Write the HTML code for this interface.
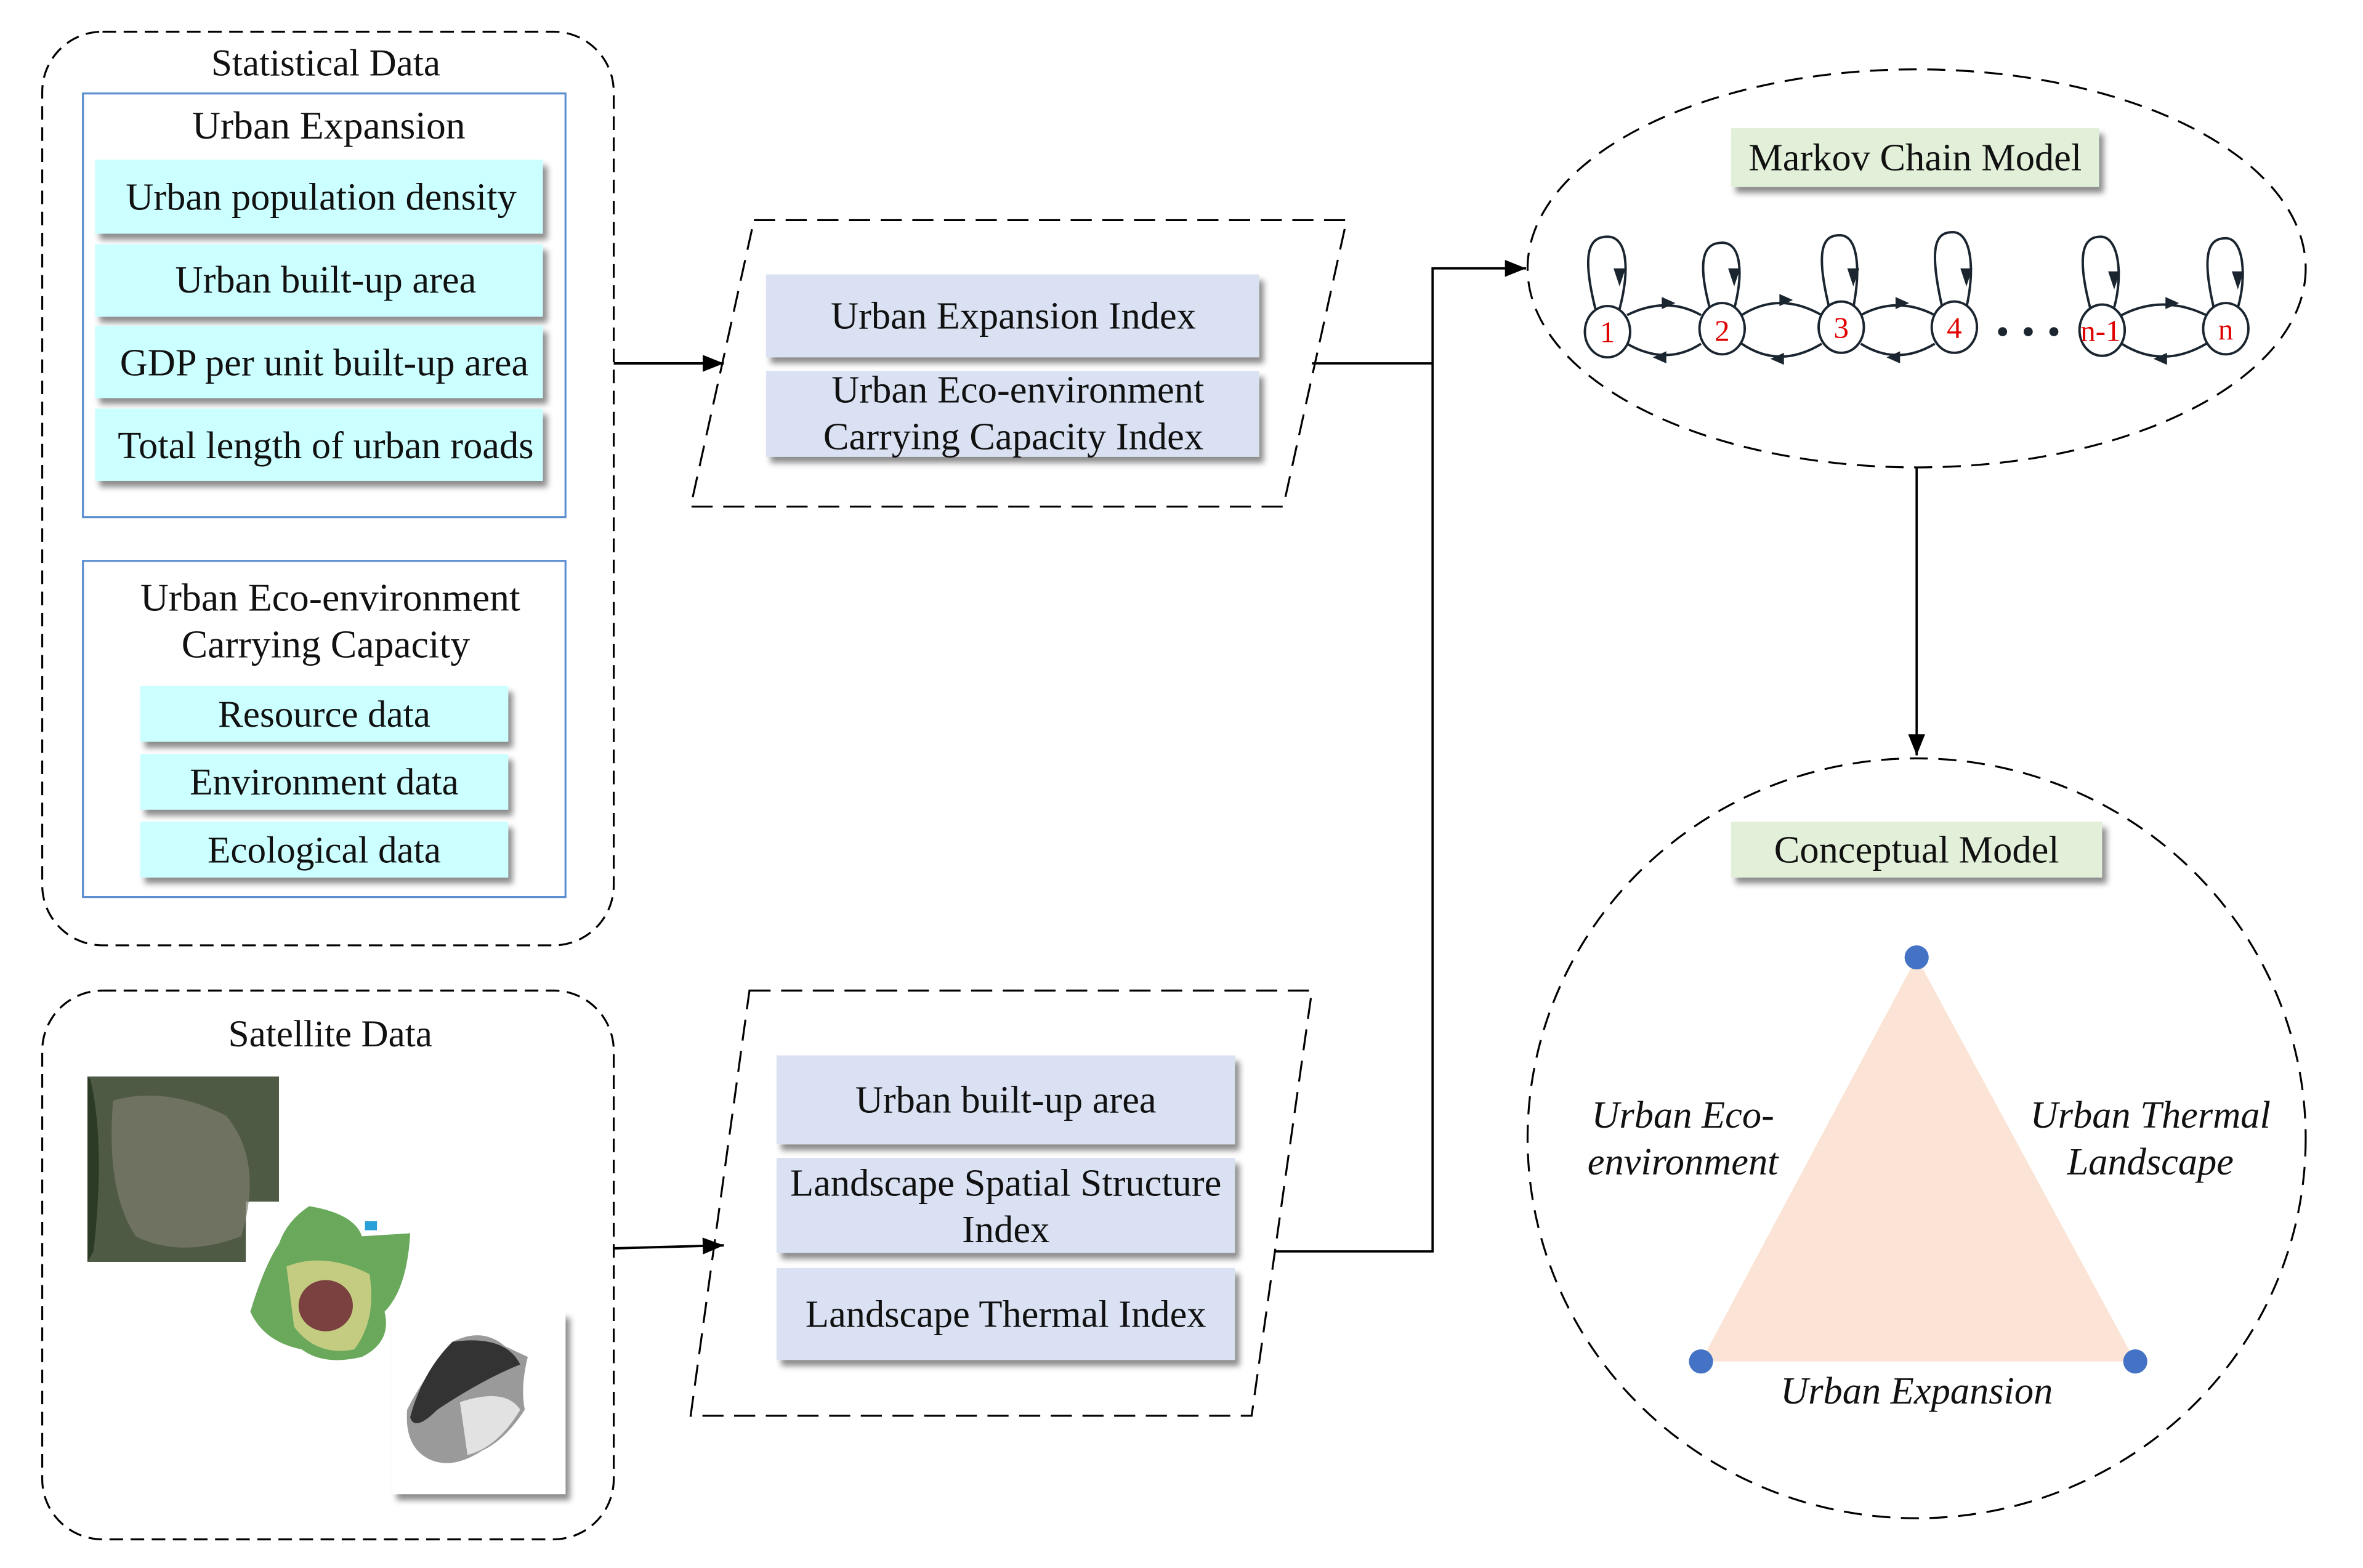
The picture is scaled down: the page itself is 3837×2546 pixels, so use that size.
<!DOCTYPE html>
<html><head><meta charset="utf-8"><style>
html,body{margin:0;padding:0;background:#fff;}
svg{display:block;}
text{font-family:"Liberation Serif",serif;fill:#111;}
</style></head><body>
<svg width="3837" height="2546" viewBox="0 0 1567 1040" preserveAspectRatio="none" xmlns="http://www.w3.org/2000/svg">
<defs>
<filter id="sh" x="-10%" y="-20%" width="130%" height="160%"><feDropShadow dx="3" dy="4" stdDeviation="2" flood-color="#000" flood-opacity="0.45"/></filter>
<marker id="ar2" viewBox="0 0 10 10" refX="10" refY="5" markerWidth="22" markerHeight="14" orient="auto" markerUnits="userSpaceOnUse"><path d="M0,1 L10,5 L0,9z" fill="#000"/></marker>
</defs>
<rect width="1567" height="1040" fill="#fff"/>

<!-- Statistical data -->
<rect x="28" y="21" width="379" height="606" rx="40" fill="none" stroke="#000" stroke-width="1.3" stroke-dasharray="9,5"/>
<text x="216" y="50" font-size="25" text-anchor="middle">Statistical Data</text>
<rect x="55" y="62" width="320" height="281" fill="none" stroke="#5b8fd0" stroke-width="1.3"/>
<text x="218" y="92" font-size="26" text-anchor="middle">Urban Expansion</text>
<g filter="url(#sh)" fill="#ccffff">
<rect x="63" y="106" width="297" height="49"/>
<rect x="63" y="162" width="297" height="48"/>
<rect x="63" y="216" width="297" height="48"/>
<rect x="63" y="271" width="297" height="48"/>
</g>
<g font-size="25.5" text-anchor="middle">
<text x="213" y="139">Urban population density</text>
<text x="216" y="194">Urban built-up area</text>
<text x="215" y="249">GDP per unit built-up area</text>
<text x="216" y="304">Total length of urban roads</text>
</g>
<rect x="55" y="372" width="320" height="223" fill="none" stroke="#5b8fd0" stroke-width="1.3"/>
<text x="219" y="405" font-size="26" text-anchor="middle">Urban  Eco-environment</text>
<text x="216" y="436" font-size="26" text-anchor="middle">Carrying Capacity</text>
<g filter="url(#sh)" fill="#ccffff">
<rect x="93" y="455" width="244" height="37"/>
<rect x="93" y="500" width="244" height="37"/>
<rect x="93" y="545" width="244" height="37"/>
</g>
<g font-size="25" text-anchor="middle">
<text x="215" y="482">Resource data</text>
<text x="215" y="527">Environment data</text>
<text x="215" y="572">Ecological data</text>
</g>

<!-- Satellite -->
<rect x="28" y="657" width="379" height="364" rx="40" fill="none" stroke="#000" stroke-width="1.3" stroke-dasharray="9,5"/>
<text x="219" y="694" font-size="25" text-anchor="middle">Satellite Data</text>
<path d="M58,714 H185 V797 H163 V837 H58Z" fill="#4f5a45"/>
<path d="M75,730 Q110,720 150,740 Q175,770 160,820 Q120,835 90,820 Q70,790 75,730Z" fill="#7d7c6d" opacity="0.7"/>
<path d="M60,716 Q70,760 62,830 L58,837 V714Z" fill="#2c3b26"/>
<path d="M205,800 Q235,805 240,820 L272,818 Q270,855 255,870 Q260,890 240,900 Q215,906 200,895 Q175,890 166,870 Q175,840 185,825 Q190,810 205,800Z" fill="#6aa85c"/>
<path d="M190,840 Q215,830 245,845 Q250,875 235,895 Q210,900 195,880Z" fill="#d9d48a" opacity="0.8"/>
<ellipse cx="216" cy="866" rx="18" ry="17" fill="#7b4040"/>
<rect x="242" y="810" width="8" height="6" fill="#2aa0d8"/>
<rect x="260" y="870" width="115" height="121" fill="#fff" filter="url(#sh)"/>
<path d="M300,890 Q320,880 335,893 L350,900 Q345,920 348,935 Q335,955 320,962 Q300,975 285,968 Q268,960 270,935 Q280,915 300,890Z" fill="#9a9a9a"/>
<path d="M300,890 Q335,885 345,905 Q320,915 290,935 Q275,950 272,940 Q280,910 300,890Z" fill="#333"/>
<path d="M305,930 Q335,920 345,935 Q330,960 310,965Z" fill="#e2e2e2"/>

<!-- arrows from left -->
<line x1="407" y1="241" x2="480" y2="241" stroke="#000" stroke-width="1.6" marker-end="url(#ar2)"/>
<line x1="407" y1="828" x2="480" y2="826" stroke="#000" stroke-width="1.6" marker-end="url(#ar2)"/>

<!-- parallelogram 1 -->
<path d="M500,146 H893 L851,336 H458Z" fill="none" stroke="#000" stroke-width="1.3" stroke-dasharray="14,7"/>
<g filter="url(#sh)" fill="#d9e1f2">
<rect x="508" y="182" width="327" height="55"/>
<rect x="508" y="246" width="327" height="57"/>
</g>
<g font-size="25.5" text-anchor="middle">
<text x="672" y="218">Urban Expansion Index</text>
<text x="675" y="267">Urban  Eco-environment</text>
<text x="672" y="298">Carrying Capacity Index</text>
</g>

<!-- parallelogram 2 -->
<path d="M497,657 H870 L830,939 H458Z" fill="none" stroke="#000" stroke-width="1.3" stroke-dasharray="14,7"/>
<g filter="url(#sh)" fill="#d9e1f2">
<rect x="515" y="700" width="304" height="59"/>
<rect x="515" y="768" width="304" height="63"/>
<rect x="515" y="841" width="304" height="61"/>
</g>
<g font-size="25.5" text-anchor="middle">
<text x="667" y="738">Urban built-up area</text>
<text x="667" y="793">Landscape Spatial Structure</text>
<text x="667" y="824">Index</text>
<text x="667" y="880">Landscape Thermal Index</text>
</g>

<!-- connectors -->
<polyline points="870,241 950,241" fill="none" stroke="#000" stroke-width="1.5"/>
<polyline points="845,830 950,830 950,178 1012,178" fill="none" stroke="#000" stroke-width="1.5" marker-end="url(#ar2)"/>

<!-- Markov ellipse -->
<ellipse cx="1271" cy="178" rx="258" ry="132" fill="none" stroke="#000" stroke-width="1.3" stroke-dasharray="12,7"/>
<rect x="1148" y="85" width="244" height="39" fill="#e2efd9" filter="url(#sh)"/>
<text x="1270" y="113" font-size="25.5" text-anchor="middle">Markov Chain Model</text>
<g fill="none" stroke="#1a2530" stroke-width="1.6">
<path d="M1058,205 C1048,165 1055,157 1066,157 C1079,157 1081,178 1074,205"/>
<path d="M1134,205 C1124,168 1132,161 1142,161 C1155,161 1156,182 1150,205"/>
<path d="M1213,204 C1203,163 1210,156 1220,156 C1232,156 1234,178 1229,204"/>
<path d="M1288,204 C1278,160 1285,154 1295,154 C1307,154 1310,178 1304,204"/>
<path d="M1386,204 C1376,165 1383,157 1393,157 C1405,157 1408,182 1402,204"/>
<path d="M1468,204 C1459,165 1466,158 1476,158 C1488,158 1490,184 1484,204"/>
<path d="M1079,209 Q1105,196 1128,209"/><path d="M1128,228 Q1105,243 1079,228"/>
<path d="M1155,209 Q1180,193 1208,209"/><path d="M1208,228 Q1180,245 1155,228"/>
<path d="M1234,209 Q1258,196 1283,209"/><path d="M1283,228 Q1258,243 1234,228"/>
<path d="M1407,209 Q1434,195 1463,209"/><path d="M1463,228 Q1434,245 1407,228"/>
</g>
<g fill="#1a2530">
<path d="M1074,178 l-4,0 l4,12 l4,-12z"/><path d="M1150,178 l-4,0 l4,12 l4,-12z"/><path d="M1229,178 l-4,0 l4,12 l4,-12z"/>
<path d="M1304,178 l-4,0 l4,12 l4,-12z"/><path d="M1402,180 l-4,0 l4,12 l4,-12z"/><path d="M1484,180 l-4,0 l4,12 l4,-12z"/>
<path d="M1111,201 l-9,-4 l0,8z"/><path d="M1096,237 l9,-4 l0,8z"/>
<path d="M1189,199 l-9,-4 l0,8z"/><path d="M1174,238 l9,-4 l0,8z"/>
<path d="M1266,201 l-9,-4 l0,8z"/><path d="M1251,237 l9,-4 l0,8z"/>
<path d="M1445,201 l-9,-4 l0,8z"/><path d="M1428,238 l9,-4 l0,8z"/>
<circle cx="1328" cy="220" r="3"/><circle cx="1345" cy="220" r="3"/><circle cx="1362" cy="220" r="3"/>
</g>
<g fill="#fff" stroke="#1a2530" stroke-width="1.6">
<ellipse cx="1066" cy="220" rx="15" ry="17"/><ellipse cx="1142" cy="218" rx="15" ry="17"/>
<ellipse cx="1221" cy="217" rx="15" ry="17"/><ellipse cx="1296" cy="217" rx="15" ry="17"/>
<ellipse cx="1394" cy="219" rx="15" ry="17"/><ellipse cx="1476" cy="218" rx="15" ry="17"/>
</g>
<g font-size="20" text-anchor="middle">
<text x="1066" y="227" style="fill:#e00000">1</text><text x="1142" y="226" style="fill:#e00000">2</text>
<text x="1221" y="224" style="fill:#e00000">3</text><text x="1296" y="224" style="fill:#e00000">4</text>
<text x="1393" y="226" style="fill:#e00000">n-1</text><text x="1476" y="225" style="fill:#e00000">n</text>
</g>

<line x1="1271" y1="310" x2="1271" y2="501" stroke="#000" stroke-width="1.5" marker-end="url(#ar2)"/>

<!-- Conceptual ellipse -->
<ellipse cx="1271" cy="755" rx="258" ry="252" fill="none" stroke="#000" stroke-width="1.3" stroke-dasharray="12,7"/>
<rect x="1148" y="545" width="246" height="37" fill="#e2efd9" filter="url(#sh)"/>
<text x="1271" y="572" font-size="25.5" text-anchor="middle">Conceptual Model</text>
<polygon points="1271,635 1128,903 1416,903" fill="#fbe4d5"/>
<g fill="#4472c4"><circle cx="1271" cy="635" r="8"/><circle cx="1128" cy="903" r="8"/><circle cx="1416" cy="903" r="8"/></g>
<g font-size="25.5" font-style="italic" text-anchor="middle">
<text x="1116" y="748">Urban Eco-</text>
<text x="1116" y="779">environment</text>
<text x="1426" y="748">Urban Thermal</text>
<text x="1426" y="779">Landscape</text>
<text x="1271" y="931">Urban Expansion</text>
</g>
</svg>
</body></html>
